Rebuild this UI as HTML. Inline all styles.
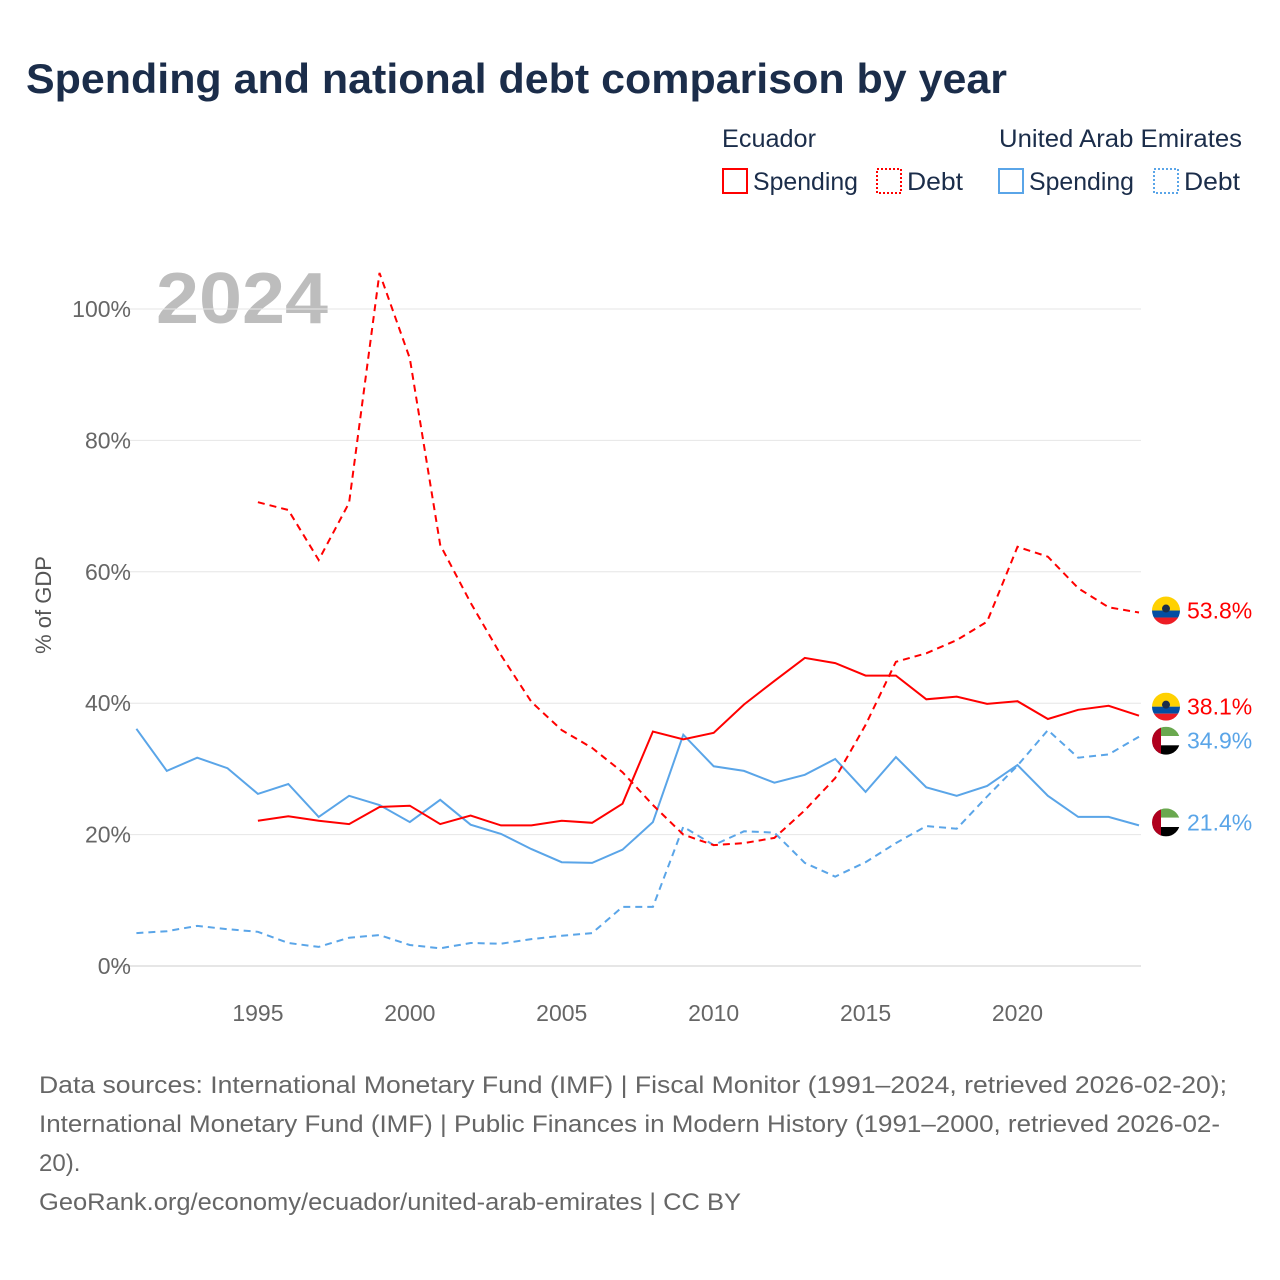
<!DOCTYPE html>
<html><head><meta charset="utf-8">
<style>
body{margin:0;background:#fff;font-family:"Liberation Sans",sans-serif;}
#wrap{position:relative;width:1280px;height:1280px;overflow:hidden}
</style></head>
<body>
<div id="wrap">
<svg id="chart" width="1280" height="1280">
<text x="26" y="93" font-size="42" font-weight="bold" fill="#1b2d4a" textLength="981" lengthAdjust="spacingAndGlyphs">Spending and national debt comparison by year</text>
<g font-size="25" fill="#1b2d4a">
<text x="722" y="147" textLength="94" lengthAdjust="spacingAndGlyphs">Ecuador</text>
<text x="999" y="147" textLength="243" lengthAdjust="spacingAndGlyphs">United Arab Emirates</text>
<rect x="723" y="169" width="24" height="24" fill="none" stroke="#ff0000" stroke-width="2"/>
<text x="753" y="190" textLength="105" lengthAdjust="spacingAndGlyphs">Spending</text>
<rect x="877" y="169" width="24" height="24" fill="none" stroke="#ff0000" stroke-width="2" stroke-dasharray="2,2"/>
<text x="907" y="190" textLength="56" lengthAdjust="spacingAndGlyphs">Debt</text>
<rect x="999" y="169" width="24" height="24" fill="none" stroke="#5aa5e8" stroke-width="2"/>
<text x="1029" y="190" textLength="105" lengthAdjust="spacingAndGlyphs">Spending</text>
<rect x="1154" y="169" width="24" height="24" fill="none" stroke="#5aa5e8" stroke-width="2" stroke-dasharray="2,2"/>
<text x="1184" y="190" textLength="56" lengthAdjust="spacingAndGlyphs">Debt</text>
</g>
<text x="156" y="323" font-size="72" font-weight="bold" fill="#bdbdbd" textLength="172" lengthAdjust="spacingAndGlyphs">2024</text>
<text transform="translate(51,605) rotate(-90)" text-anchor="middle" font-size="22" fill="#555">% of GDP</text>
<g id="grid"></g><g id="series"></g><g id="labels"></g>
<g font-size="24" fill="#666">
<text x="39" y="1093" textLength="1188" lengthAdjust="spacingAndGlyphs">Data sources: International Monetary Fund (IMF) | Fiscal Monitor (1991–2024, retrieved 2026-02-20);</text>
<text x="39" y="1132" textLength="1181" lengthAdjust="spacingAndGlyphs">International Monetary Fund (IMF) | Public Finances in Modern History (1991–2000, retrieved 2026-02-</text>
<text x="39" y="1171">20).</text>
<text x="39" y="1210" textLength="702" lengthAdjust="spacingAndGlyphs">GeoRank.org/economy/ecuador/united-arab-emirates | CC BY</text>
</g>
</svg>
</div>
<script>
const years = [];
for (let y = 1991; y <= 2024; y++) years.push(y);
const yTicks = [0, 20, 40, 60, 80, 100];
const xTicks = [1995, 2000, 2005, 2010, 2015, 2020];
const ecuSpendYears = years.slice(4);
const ecuSpending = [22.1,22.8,22.1,21.6,24.2,24.4,21.6,22.9,21.4,21.4,22.1,21.8,24.7,35.7,34.5,35.5,39.8,43.4,46.9,46.1,44.2,44.2,40.6,41.0,39.9,40.3,37.6,39.0,39.6,38.1];
const ecuDebt = [70.6,69.4,61.8,70.5,105.5,92.5,64.1,55.3,47.3,40.2,35.9,33.2,29.5,24.5,20.0,18.4,18.7,19.5,23.7,28.6,36.7,46.3,47.6,49.6,52.4,63.8,62.3,57.5,54.6,53.8];
const uaeSpending = [36.1,29.7,31.7,30.1,26.2,27.7,22.7,25.9,24.5,21.9,25.3,21.5,20.1,17.8,15.8,15.7,17.7,21.9,35.2,30.4,29.7,27.9,29.1,31.5,26.5,31.8,27.2,25.9,27.4,30.6,25.9,22.7,22.7,21.4];
const uaeDebt = [5.0,5.3,6.1,5.6,5.2,3.5,2.9,4.3,4.7,3.2,2.7,3.5,3.4,4.1,4.6,5.0,9.0,9.0,21.2,18.4,20.5,20.3,15.7,13.6,15.8,18.7,21.3,20.9,25.8,30.5,35.9,31.7,32.2,34.9];

const NS = "http://www.w3.org/2000/svg";
const RED = '#ff0000';
const x = yr => 136.4 + (yr - 1991) * (1139 - 136.4) / 33;
const y = v => 966 - v * 6.57;
function mk(tag, attrs, parent){const e=document.createElementNS(NS,tag);for(const k in attrs)e.setAttribute(k,attrs[k]);parent.appendChild(e);return e;}
const grid = document.getElementById('grid');
yTicks.forEach(t=>{
  const l=mk('line',{x1:112,x2:1141,y1:y(t),y2:y(t),stroke:t===0?'#ccc':'#e6e6e6','stroke-width':1},grid);
  
  
  const tx=mk('text',{x:131,y:y(t)+8,'text-anchor':'end','font-size':23,fill:'#666'},grid);
  tx.textContent=t+'%';
  
  
});
xTicks.forEach(t=>{
  const tx=mk('text',{x:x(t),y:1021,'text-anchor':'middle','font-size':23,fill:'#666'},grid);
  tx.textContent=t;
  
  
});
const ser = document.getElementById('series');
function line(xs, vs, color, dash, name){
  const d = vs.map((v,i)=>(i?'L':'M')+x(xs[i]).toFixed(1)+','+y(v).toFixed(1)).join('');
  const p = mk('path',{d:d,fill:'none',stroke:color,'stroke-width':2,'stroke-dasharray':dash||'none'},ser);
  
  
}
line(years, uaeDebt, '#5aa5e8', '7,5', 'uae-debt-line');
line(years, uaeSpending, '#5aa5e8', '', 'uae-spending-line');
line(ecuSpendYears, ecuDebt, RED, '7,5', 'ecuador-debt-line');
line(ecuSpendYears, ecuSpending, RED, '', 'ecuador-spending-line');

const lab = document.getElementById('labels');
function flag(cy, country, val, color, name){
  const cx=1166, r=14;
  const g=mk('g',{},lab);
  
  
  const id='c'+name;
  const cp=mk('clipPath',{id:id},g); mk('circle',{cx:cx,cy:cy,r:r},cp);
  const gg=mk('g',{'clip-path':'url(#'+id+')'},g);
  if(country==='ecu'){
    mk('rect',{x:cx-r,y:cy-r,width:28,height:14,fill:'#ffd100'},gg);
    mk('rect',{x:cx-r,y:cy,width:28,height:7,fill:'#034ea2'},gg);
    mk('rect',{x:cx-r,y:cy+7,width:28,height:7,fill:'#ed1c24'},gg);
    mk('circle',{cx:cx,cy:cy-2,r:4,fill:'#1b2d4a'},gg);
  } else {
    mk('rect',{x:cx-r,y:cy-r,width:28,height:9.3,fill:'#6aa84f'},gg);
    mk('rect',{x:cx-r,y:cy-4.7,width:28,height:9.3,fill:'#fff'},gg);
    mk('rect',{x:cx-r,y:cy+4.6,width:28,height:9.4,fill:'#000'},gg);
    mk('rect',{x:cx-r,y:cy-r,width:9,height:28,fill:'#b0001e'},gg);
  }
  const tx=mk('text',{x:1187,y:cy+8,'font-size':23,fill:color},lab);
  tx.textContent=val.toFixed(1)+'%';
  
  
}
flag(y(ecuDebt[ecuDebt.length-1])-2, 'ecu', ecuDebt[ecuDebt.length-1], RED, 'ecuador-debt');
flag(y(ecuSpending[ecuSpending.length-1])-9, 'ecu', ecuSpending[ecuSpending.length-1], RED, 'ecuador-spending');
flag(y(uaeDebt[uaeDebt.length-1])+4, 'uae', uaeDebt[uaeDebt.length-1], '#5aa5e8', 'uae-debt');
flag(y(uaeSpending[uaeSpending.length-1])-3, 'uae', uaeSpending[uaeSpending.length-1], '#5aa5e8', 'uae-spending');
</script>
</body></html>
